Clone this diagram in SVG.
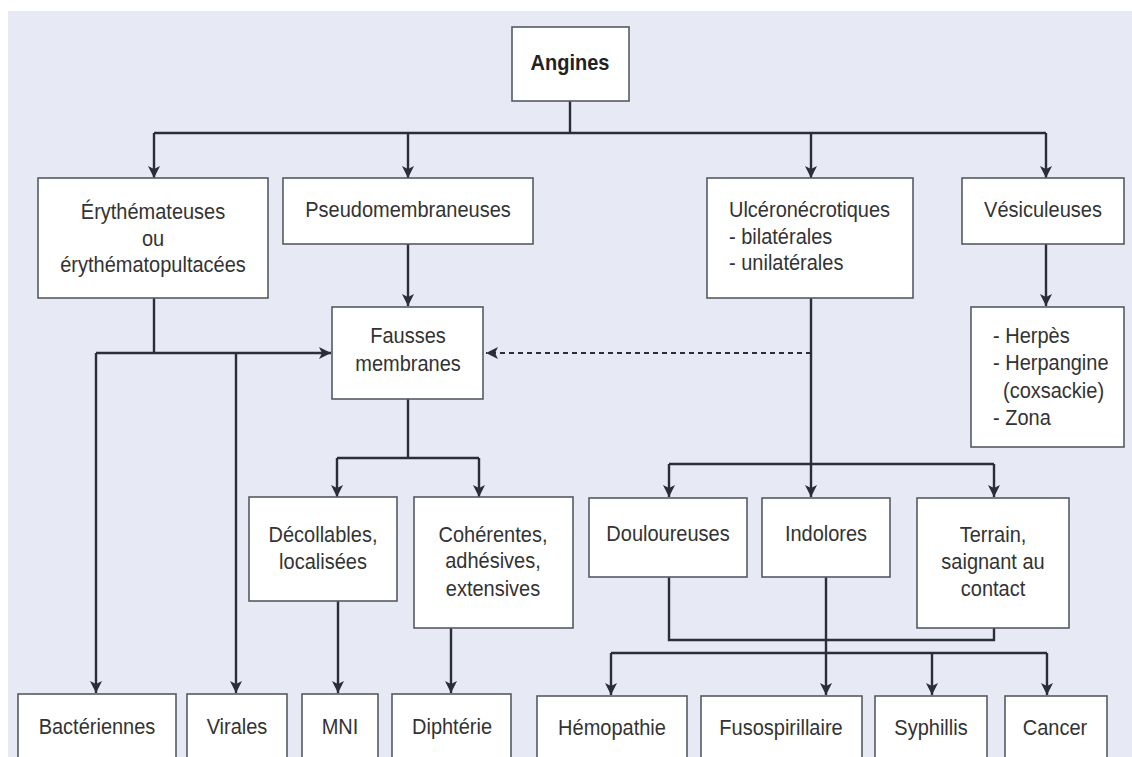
<svg xmlns="http://www.w3.org/2000/svg" width="1132" height="757" viewBox="0 0 1132 757">
<style>
.box{fill:#ffffff;stroke:#555a63;stroke-width:1.6}
.ln{fill:none;stroke:#2b2e38;stroke-width:2.4}
.dash{fill:none;stroke:#2b2e38;stroke-width:2.2;stroke-dasharray:5 4}
.t{font-family:"Liberation Sans",Arial,Helvetica,sans-serif;font-size:20px;fill:#333333;text-anchor:middle}
.s{text-anchor:start}
.b{font-weight:bold;fill:#222222}
</style>
<defs>
<marker id="ah" markerUnits="userSpaceOnUse" markerWidth="12" markerHeight="13" refX="12" refY="6" orient="auto" viewBox="0 0 12 12">
<path d="M0,0 L12,6 L0,12 L3,6 z" fill="#2b2e38"/>
</marker>
</defs>
<rect x="0" y="0" width="1132" height="757" fill="#ffffff"/>
<rect x="8" y="11" width="1124" height="746" fill="#e7e9f5"/>

<g id="connectors">
<path class="ln" d="M570,101 V133"/>
<path class="ln" d="M154,133 H1046"/>
<path class="ln" d="M154,133 V178" marker-end="url(#ah)"/>
<path class="ln" d="M408,133 V178" marker-end="url(#ah)"/>
<path class="ln" d="M811,133 V178" marker-end="url(#ah)"/>
<path class="ln" d="M1046,133 V178" marker-end="url(#ah)"/>
<path class="ln" d="M1046,244 V306" marker-end="url(#ah)"/>
<path class="ln" d="M408,244 V306" marker-end="url(#ah)"/>
<path class="ln" d="M154,298 V353"/>
<path class="ln" d="M96,353 H331" marker-end="url(#ah)"/>
<path class="ln" d="M96,353 V693" marker-end="url(#ah)"/>
<path class="ln" d="M236,353 V693" marker-end="url(#ah)"/>
<path class="dash" d="M811,353 H486" marker-end="url(#ah)"/>
<path class="ln" d="M408,399 V458"/>
<path class="ln" d="M337,458 H479"/>
<path class="ln" d="M337,458 V497" marker-end="url(#ah)"/>
<path class="ln" d="M479,458 V497" marker-end="url(#ah)"/>
<path class="ln" d="M338,601 V693" marker-end="url(#ah)"/>
<path class="ln" d="M451,628 V693" marker-end="url(#ah)"/>
<path class="ln" d="M811,298 V497" marker-end="url(#ah)"/>
<path class="ln" d="M669,464 H994"/>
<path class="ln" d="M669,464 V497" marker-end="url(#ah)"/>
<path class="ln" d="M994,464 V497" marker-end="url(#ah)"/>
<path class="ln" d="M669,577 V640 H994 V628"/>
<path class="ln" d="M826,577 V695" marker-end="url(#ah)"/>
<path class="ln" d="M611,653 H1047"/>
<path class="ln" d="M611,653 V695" marker-end="url(#ah)"/>
<path class="ln" d="M932,653 V695" marker-end="url(#ah)"/>
<path class="ln" d="M1047,653 V695" marker-end="url(#ah)"/>
</g>

<g id="angines">
<rect class="box" x="512" y="27" width="117" height="74"/>
<text class="t b" transform="translate(570,70) scale(1,1.08)">Angines</text>
</g>
<g id="erythemateuses">
<rect class="box" x="38" y="178" width="230" height="120"/>
<text class="t" transform="translate(153,219) scale(1,1.12)"><tspan x="0">Érythémateuses</tspan><tspan x="0" dy="24.5">ou</tspan><tspan x="0" dy="23">érythématopultacées</tspan></text>
</g>
<g id="pseudomembraneuses">
<rect class="box" x="283" y="178" width="250" height="66"/>
<text class="t" transform="translate(408,217) scale(1,1.12)">Pseudomembraneuses</text>
</g>
<g id="ulceronecrotiques">
<rect class="box" x="707" y="178" width="206" height="120"/>
<text class="t s" transform="translate(729,217) scale(1,1.12)"><tspan x="0">Ulcéronécrotiques</tspan><tspan x="0" dy="24">- bilatérales</tspan><tspan x="0" dy="23.2">- unilatérales</tspan></text>
</g>
<g id="vesiculeuses">
<rect class="box" x="962" y="178" width="162" height="66"/>
<text class="t" transform="translate(1043,217) scale(1,1.12)">Vésiculeuses</text>
</g>
<g id="herpes">
<rect class="box" x="971" y="307" width="153" height="140"/>
<text class="t s" transform="translate(993,343) scale(1,1.12)"><tspan x="0">- Herpès</tspan><tspan x="0" dy="24">- Herpangine</tspan><tspan x="10" dy="25">(coxsackie)</tspan><tspan x="0" dy="24">- Zona</tspan></text>
</g>
<g id="fausses">
<rect class="box" x="332" y="307" width="151" height="92"/>
<text class="t" transform="translate(408,343) scale(1,1.12)"><tspan x="0">Fausses</tspan><tspan x="0" dy="25">membranes</tspan></text>
</g>
<g id="decollables">
<rect class="box" x="249" y="497" width="148" height="104"/>
<text class="t" transform="translate(323,542) scale(1,1.12)"><tspan x="0">Décollables,</tspan><tspan x="0" dy="24">localisées</tspan></text>
</g>
<g id="coherentes">
<rect class="box" x="414" y="497" width="159" height="131"/>
<text class="t" transform="translate(493,542) scale(1,1.12)"><tspan x="0">Cohérentes,</tspan><tspan x="0" dy="23.5">adhésives,</tspan><tspan x="0" dy="24.5">extensives</tspan></text>
</g>
<g id="douloureuses">
<rect class="box" x="589" y="498" width="158" height="79"/>
<text class="t" transform="translate(668,541) scale(1,1.12)">Douloureuses</text>
</g>
<g id="indolores">
<rect class="box" x="762" y="498" width="128" height="79"/>
<text class="t" transform="translate(826,541) scale(1,1.12)">Indolores</text>
</g>
<g id="terrain">
<rect class="box" x="917" y="498" width="152" height="130"/>
<text class="t" transform="translate(993,542) scale(1,1.12)"><tspan x="0">Terrain,</tspan><tspan x="0" dy="24">saignant au</tspan><tspan x="0" dy="24">contact</tspan></text>
</g>
<g id="bacteriennes">
<rect class="box" x="18" y="694" width="158" height="80"/>
<text class="t" transform="translate(97,734) scale(1,1.12)">Bactériennes</text>
</g>
<g id="virales">
<rect class="box" x="187" y="694" width="100" height="80"/>
<text class="t" transform="translate(237,734) scale(1,1.12)">Virales</text>
</g>
<g id="mni">
<rect class="box" x="302" y="694" width="76" height="80"/>
<text class="t" transform="translate(340,734) scale(1,1.12)">MNI</text>
</g>
<g id="diphterie">
<rect class="box" x="392" y="694" width="119" height="80"/>
<text class="t" transform="translate(452,734) scale(1,1.12)">Diphtérie</text>
</g>
<g id="hemopathie">
<rect class="box" x="537" y="696" width="150" height="80"/>
<text class="t" transform="translate(612,735) scale(1,1.12)">Hémopathie</text>
</g>
<g id="fusospirillaire">
<rect class="box" x="701" y="696" width="161" height="80"/>
<text class="t" transform="translate(781,735) scale(1,1.12)">Fusospirillaire</text>
</g>
<g id="syphillis">
<rect class="box" x="875" y="696" width="112" height="80"/>
<text class="t" transform="translate(931,735) scale(1,1.12)">Syphillis</text>
</g>
<g id="cancer">
<rect class="box" x="1005" y="696" width="102" height="80"/>
<text class="t" transform="translate(1055,735) scale(1,1.12)">Cancer</text>
</g>
</svg>
